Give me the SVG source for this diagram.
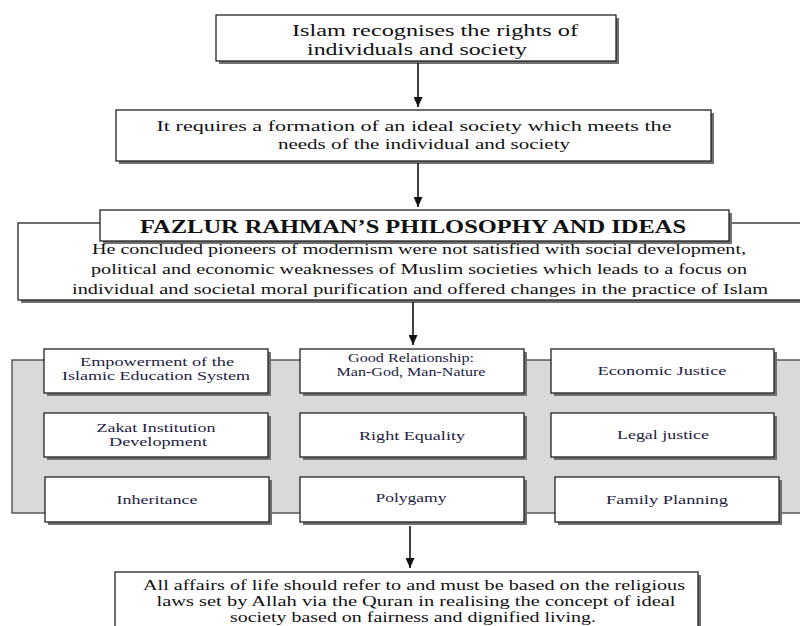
<svg xmlns="http://www.w3.org/2000/svg" width="800" height="626" viewBox="0 0 800 626">
<style>
.box{fill:#fff;stroke:#222;stroke-width:1.3}
.sh{fill:#707070}
.t{font-family:"Liberation Serif","Times New Roman","DejaVu Serif",serif;fill:#111;text-anchor:middle}
.g{font-family:"Liberation Serif","Times New Roman","DejaVu Serif",serif;fill:#1c2240;text-anchor:middle;font-size:13px}
.c{stroke:#111;stroke-width:1.6;fill:none}
</style>
<defs>
<marker id="ah" markerWidth="10" markerHeight="9" refX="10" refY="4.5" orient="auto" markerUnits="userSpaceOnUse" viewBox="0 0 10 9">
<path d="M0,0 L10,4.5 L0,9 Z" fill="#111"/>
</marker>
</defs>

<g id="n1">
<rect class="sh" x="219" y="18" width="400" height="46"/>
<rect class="box" x="216" y="15" width="400" height="46"/>
<text class="t" font-size="17" x="435" y="36" textLength="286" lengthAdjust="spacingAndGlyphs">Islam recognises the rights of</text>
<text class="t" font-size="17" x="417" y="55" textLength="220" lengthAdjust="spacingAndGlyphs">individuals and society</text>
</g>

<g id="n2">
<rect class="sh" x="119" y="113" width="595" height="51"/>
<rect class="box" x="116" y="110" width="595" height="51"/>
<text class="t" font-size="15" x="414" y="131" textLength="515" lengthAdjust="spacingAndGlyphs">It requires a formation of an ideal society which meets the</text>
<text class="t" font-size="15" x="424" y="149" textLength="292" lengthAdjust="spacingAndGlyphs">needs of the individual and society</text>
</g>

<g id="n3">
<rect class="sh" x="21" y="226" width="782" height="77"/>
<rect class="box" x="18" y="223" width="785" height="77"/>
<rect class="sh" x="103" y="213" width="629" height="31"/>
<rect class="box" x="100" y="210" width="629" height="31"/>
<text class="t" font-size="18" font-weight="bold" x="413" y="233" textLength="546" lengthAdjust="spacingAndGlyphs">FAZLUR RAHMAN’S PHILOSOPHY AND IDEAS</text>
<text class="t" font-size="15" x="419" y="254" textLength="654" lengthAdjust="spacingAndGlyphs">He concluded pioneers of modernism were not satisfied with social development,</text>
<text class="t" font-size="15" x="419" y="274" textLength="656" lengthAdjust="spacingAndGlyphs">political and economic weaknesses of Muslim societies which leads to a focus on</text>
<text class="t" font-size="15" x="420" y="294" textLength="696" lengthAdjust="spacingAndGlyphs">individual and societal moral purification and  offered changes in the practice of Islam</text>
</g>

<g id="panel">
<rect x="12" y="360" width="792" height="153" fill="#d9d9d9" stroke="#444" stroke-width="1.3"/>
</g>

<g id="g1"><rect class="sh" x="47" y="352" width="224" height="44"/><rect class="box" x="44" y="349" width="224" height="44"/>
<text class="g" x="157" y="366" textLength="154" lengthAdjust="spacingAndGlyphs">Empowerment of the</text>
<text class="g" x="156" y="380" textLength="188" lengthAdjust="spacingAndGlyphs">Islamic Education System</text></g>

<g id="g2"><rect class="sh" x="303" y="352" width="224" height="44"/><rect class="box" x="300" y="349" width="224" height="44"/>
<text class="g" font-size="11" x="411" y="362" textLength="126" lengthAdjust="spacingAndGlyphs">Good Relationship:</text>
<text class="g" font-size="11" x="411" y="376" textLength="149" lengthAdjust="spacingAndGlyphs">Man-God, Man-Nature</text></g>

<g id="g3"><rect class="sh" x="554" y="352" width="223" height="44"/><rect class="box" x="551" y="349" width="223" height="44"/>
<text class="g" x="662" y="375" textLength="129" lengthAdjust="spacingAndGlyphs">Economic Justice</text></g>

<g id="g4"><rect class="sh" x="47" y="416" width="224" height="44"/><rect class="box" x="44" y="413" width="224" height="44"/>
<text class="g" x="156" y="432" textLength="119" lengthAdjust="spacingAndGlyphs">Zakat Institution</text>
<text class="g" x="158" y="446" textLength="98" lengthAdjust="spacingAndGlyphs">Development</text></g>

<g id="g5"><rect class="sh" x="303" y="416" width="224" height="44"/><rect class="box" x="300" y="413" width="224" height="44"/>
<text class="g" x="412" y="440" textLength="106" lengthAdjust="spacingAndGlyphs">Right Equality</text></g>

<g id="g6"><rect class="sh" x="554" y="416" width="223" height="44"/><rect class="box" x="551" y="413" width="223" height="44"/>
<text class="g" x="663" y="439" textLength="92" lengthAdjust="spacingAndGlyphs">Legal justice</text></g>

<g id="g7"><rect class="sh" x="48" y="480" width="224" height="45"/><rect class="box" x="45" y="477" width="224" height="45"/>
<text class="g" x="157" y="504" textLength="81" lengthAdjust="spacingAndGlyphs">Inheritance</text></g>

<g id="g8"><rect class="sh" x="303" y="480" width="224" height="45"/><rect class="box" x="300" y="477" width="224" height="45"/>
<text class="g" x="411" y="502" textLength="71" lengthAdjust="spacingAndGlyphs">Polygamy</text></g>

<g id="g9"><rect class="sh" x="558" y="480" width="224" height="45"/><rect class="box" x="555" y="477" width="224" height="45"/>
<text class="g" x="667" y="504" textLength="122" lengthAdjust="spacingAndGlyphs">Family Planning</text></g>

<g id="n4">
<rect class="sh" x="118" y="575" width="583" height="60"/>
<rect class="box" x="115" y="572" width="583" height="60"/>
<text class="t" font-size="15" x="414" y="590" textLength="542" lengthAdjust="spacingAndGlyphs">All affairs of life should refer to and must be based on the religious</text>
<text class="t" font-size="15" x="416" y="606" textLength="519" lengthAdjust="spacingAndGlyphs">laws set by Allah via the Quran in realising the concept of ideal</text>
<text class="t" font-size="15" x="413" y="622" textLength="366" lengthAdjust="spacingAndGlyphs">society based on fairness and dignified living.</text>
</g>

<g id="connectors">
<line class="c" x1="418" y1="63" x2="418" y2="107" marker-end="url(#ah)"/>
<line class="c" x1="418" y1="163" x2="418" y2="207" marker-end="url(#ah)"/>
<line class="c" x1="413" y1="302" x2="413" y2="345" marker-end="url(#ah)"/>
<line class="c" x1="410" y1="526" x2="410" y2="568" marker-end="url(#ah)"/>
</g>
</svg>
